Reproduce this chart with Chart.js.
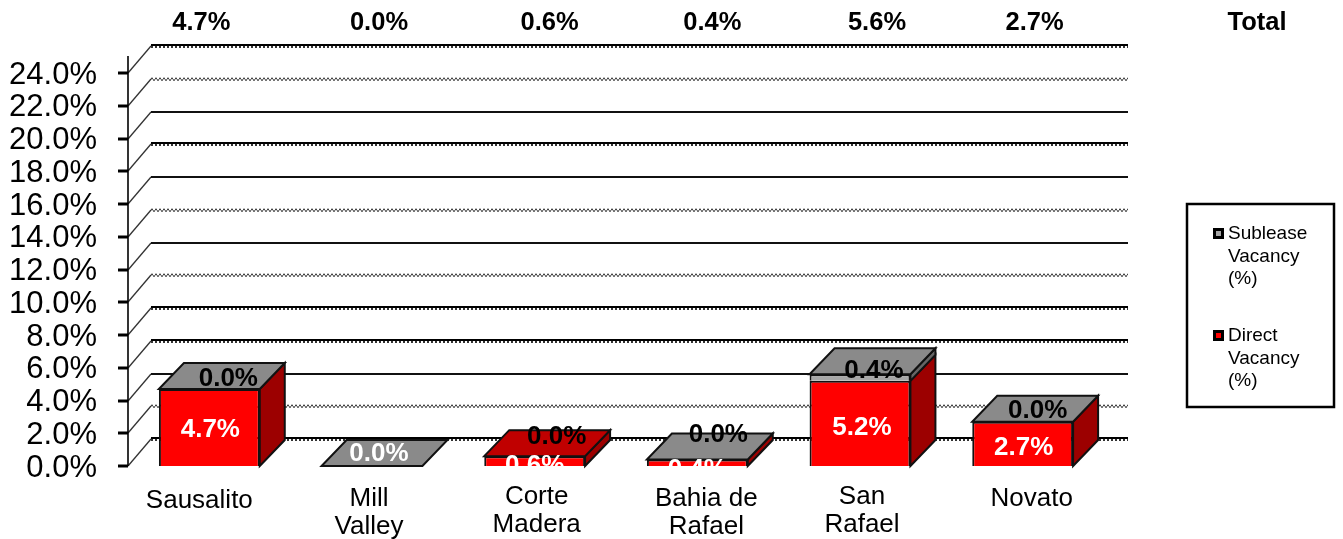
<!DOCTYPE html>
<html><head><meta charset="utf-8">
<style>html,body{margin:0;padding:0;background:#fff}canvas{display:block}</style>
<script src="https://cdn.jsdelivr.net/npm/chart.js@4/dist/chart.umd.js"></script>
</head><body><canvas id="c" width="1343" height="539"></canvas>
<script>
const categories = [["Sausalito"],["Mill","Valley"],["Corte","Madera"],["Bahia de","Rafael"],["San","Rafael"],["Novato"]];
const directVacancy = [4.7,0.0,0.6,0.4,5.2,2.7];
const subleaseVacancy = [0.0,0.0,0.0,0.0,0.4,0.0];
const totals = [4.7,0.0,0.6,0.4,5.6,2.7];
const yTicks = [0,2,4,6,8,10,12,14,16,18,20,22,24];

const FONT = '"Liberation Sans", Arial, sans-serif';
const DEPTH_X = 25, DEPTH_Y = 26, GRID_DX = 23, GRID_DY = 27;
const RED='#ff0000', RED_SIDE='#9c0000', RED_TOP='#c00000', GREY_FRONT='#a6a6a6', GREY_TOP='#8a8a8a', GREY_SIDE='#666666', EDGE='#111111';
const solidLines = new Set([20,16,12,4]);
const doubleLines = new Set([24,18,8,6,0]);
const topFaces = [GREY_TOP,GREY_TOP,RED_TOP,GREY_TOP,GREY_TOP,GREY_TOP];
const totalNudge = [-8,7,15,15,17,12];
const subNudge = [[19,-10],null,[22,-19],[21,-25],[14,-3],[15,-11]];
const dirNudge = [[1,2],[7,-12],[0,5],[0,7],[2,4],[1,4]];
const catNudge = [[-10,1],[-3,-1],[2,-3],[9,-1],[2,-3],[9,-1]];

function poly(ctx,pts,fill){ctx.beginPath();pts.forEach((p,i)=>i?ctx.lineTo(p[0],p[1]):ctx.moveTo(p[0],p[1]));ctx.closePath();ctx.fillStyle=fill;ctx.fill();ctx.lineWidth=2;ctx.strokeStyle=EDGE;ctx.stroke();}
function dotted(ctx,x0,x1,y,color,w,off){ctx.save();ctx.strokeStyle=color;ctx.lineWidth=w;ctx.setLineDash([2,2]);ctx.lineDashOffset=off||0;ctx.beginPath();ctx.moveTo(x0,y);ctx.lineTo(x1,y);ctx.stroke();ctx.restore();}

const threeD = {
  id:'threeD',
  beforeDraw(chart){
    const x=chart.scales.x;
    if(x._nudged===x._labelItems && x._labelItems) return;
    const items=x.getLabelItems();
    items.forEach((it,i)=>{it.options.translation[0]+=catNudge[i][0];it.options.translation[1]+=catNudge[i][1];});
    x._nudged=items;
  },
  beforeDatasetsDraw(chart){
    const {ctx,scales:{y},chartArea:a}=chart;
    ctx.save();
    yTicks.forEach(v=>{
      const py=Math.round(y.getPixelForValue(v));
      const by=py-GRID_DY, x0=a.left+GRID_DX, x1=a.right+GRID_DX+1;
      ctx.lineWidth=1.3;ctx.strokeStyle='#333';
      ctx.beginPath();ctx.moveTo(a.left,py);ctx.lineTo(x0,by);ctx.stroke();
      if(solidLines.has(v)){
        ctx.lineWidth=2;ctx.strokeStyle='#111';ctx.beginPath();ctx.moveTo(x0,by);ctx.lineTo(x1,by);ctx.stroke();
      }else if(doubleLines.has(v)){
        ctx.lineWidth=2;ctx.strokeStyle='#000';ctx.beginPath();ctx.moveTo(x0,by-1);ctx.lineTo(x1,by-1);ctx.stroke();
        dotted(ctx,x0,x1,by+1,'#333',2,0);
      }else{
        dotted(ctx,x0,x1,by-0.5,'#444',1.6,0);dotted(ctx,x0,x1,by+1,'#555',1.6,2);
      }
      ctx.lineWidth=3;ctx.strokeStyle='#000';
      ctx.beginPath();ctx.moveTo(a.left-10,py);ctx.lineTo(a.left,py);ctx.stroke();
    });
    ctx.lineWidth=1.6;ctx.strokeStyle='#000';ctx.beginPath();ctx.moveTo(a.left,y.getPixelForValue(0));ctx.lineTo(a.left,y.getPixelForValue(24)-17);ctx.stroke();
    ctx.restore();
  },
  afterDatasetsDraw(chart){
    const {ctx}=chart;
    const dm=chart.getDatasetMeta(0).data, sm=chart.getDatasetMeta(1).data;
    ctx.save();
    categories.forEach((_,i)=>{
      const d=dm[i], s=sm[i], l=d.x-d.width/2, r=d.x+d.width/2, base=d.base;
      const dTop=d.y, sTop=s.y;
      if(directVacancy[i]>0) poly(ctx,[[r,base],[r+DEPTH_X,base-DEPTH_Y],[r+DEPTH_X,dTop-DEPTH_Y],[r,dTop]],RED_SIDE);
      if(sTop<dTop-0.5) poly(ctx,[[r,dTop],[r+DEPTH_X,dTop-DEPTH_Y],[r+DEPTH_X,sTop-DEPTH_Y],[r,sTop]],GREY_SIDE);
      poly(ctx,[[l,sTop],[l+DEPTH_X,sTop-DEPTH_Y],[r+DEPTH_X,sTop-DEPTH_Y],[r,sTop]],topFaces[i]);
    });
    ctx.restore();
  },
  afterDraw(chart){
    const {ctx,chartArea:a,scales:{x}}=chart;
    const dm=chart.getDatasetMeta(0).data, sm=chart.getDatasetMeta(1).data;
    ctx.save();
    ctx.textAlign='center';ctx.textBaseline='middle';
    const pct=v=>v.toFixed(1)+'%';
    ctx.font='bold 26px '+FONT;
    categories.forEach((_,i)=>{
      const d=dm[i], s=sm[i];
      ctx.save();
      ctx.beginPath();ctx.rect(0,0,1343,a.bottom+1);ctx.clip();
      ctx.fillStyle='#fff';
      ctx.fillText(pct(directVacancy[i]),d.x+dirNudge[i][0],(d.y+d.base)/2+dirNudge[i][1]);
      ctx.restore();
      if(subNudge[i]){ctx.fillStyle='#000';ctx.fillText(pct(subleaseVacancy[i]),s.x+subNudge[i][0],s.y+subNudge[i][1]);}
    });
    ctx.fillStyle='#000';ctx.font='bold 25.5px '+FONT;
    totals.forEach((v,i)=>ctx.fillText(pct(v),x.getPixelForValue(i)+totalNudge[i],23));
    ctx.fillText('Total',1257,23);
    ctx.lineWidth=2.5;ctx.strokeStyle='#000';ctx.fillStyle='#fff';
    ctx.fillRect(1187,204,147,203);ctx.strokeRect(1187,204,147,203);
    ctx.textAlign='left';ctx.font='19px '+FONT;
    [[1,234],[0,336]].forEach(([di,ly])=>{
      const ds=chart.data.datasets[di];
      ctx.fillStyle=ds.backgroundColor;ctx.strokeStyle='#000';ctx.lineWidth=3;
      ctx.fillRect(1214.5,ly-4.5,8,8);ctx.strokeRect(1214.5,ly-4.5,8,8);
      ctx.fillStyle='#000';
      ds.label.forEach((t,k)=>ctx.fillText(t,1228,ly+k*22.5));
    });
    ctx.restore();
  }
};

new Chart(document.getElementById('c'),{
  type:'bar',
  data:{labels:categories,datasets:[
    {label:['Direct','Vacancy','(%)'],data:directVacancy,backgroundColor:RED,borderColor:EDGE,borderWidth:2,barPercentage:0.62,categoryPercentage:1,stack:'s'},
    {label:['Sublease','Vacancy','(%)'],data:subleaseVacancy,backgroundColor:GREY_FRONT,borderColor:EDGE,borderWidth:2,barPercentage:0.62,categoryPercentage:1,stack:'s'}
  ]},
  options:{
    responsive:false,animation:false,
    layout:{padding:{top:73,right:239,left:0,bottom:0}},
    plugins:{legend:{display:false},tooltip:{enabled:false}},
    scales:{
      x:{stacked:true,grid:{display:false},border:{display:false},
        afterFit(s){s.height=73;},
        ticks:{color:'#000',font:{family:FONT,size:26,lineHeight:1.11},padding:11,maxRotation:0,autoSkip:false}},
      y:{stacked:true,min:0,max:24,grid:{display:false},border:{display:false},
        afterFit(s){s.width=128;},
        ticks:{color:'#000',stepSize:2,autoSkip:false,padding:23,labelOffset:2,font:{family:FONT,size:31,lineHeight:1},callback:v=>v.toFixed(1)+'%'}}
    }
  },
  plugins:[threeD]
});
</script></body></html>
